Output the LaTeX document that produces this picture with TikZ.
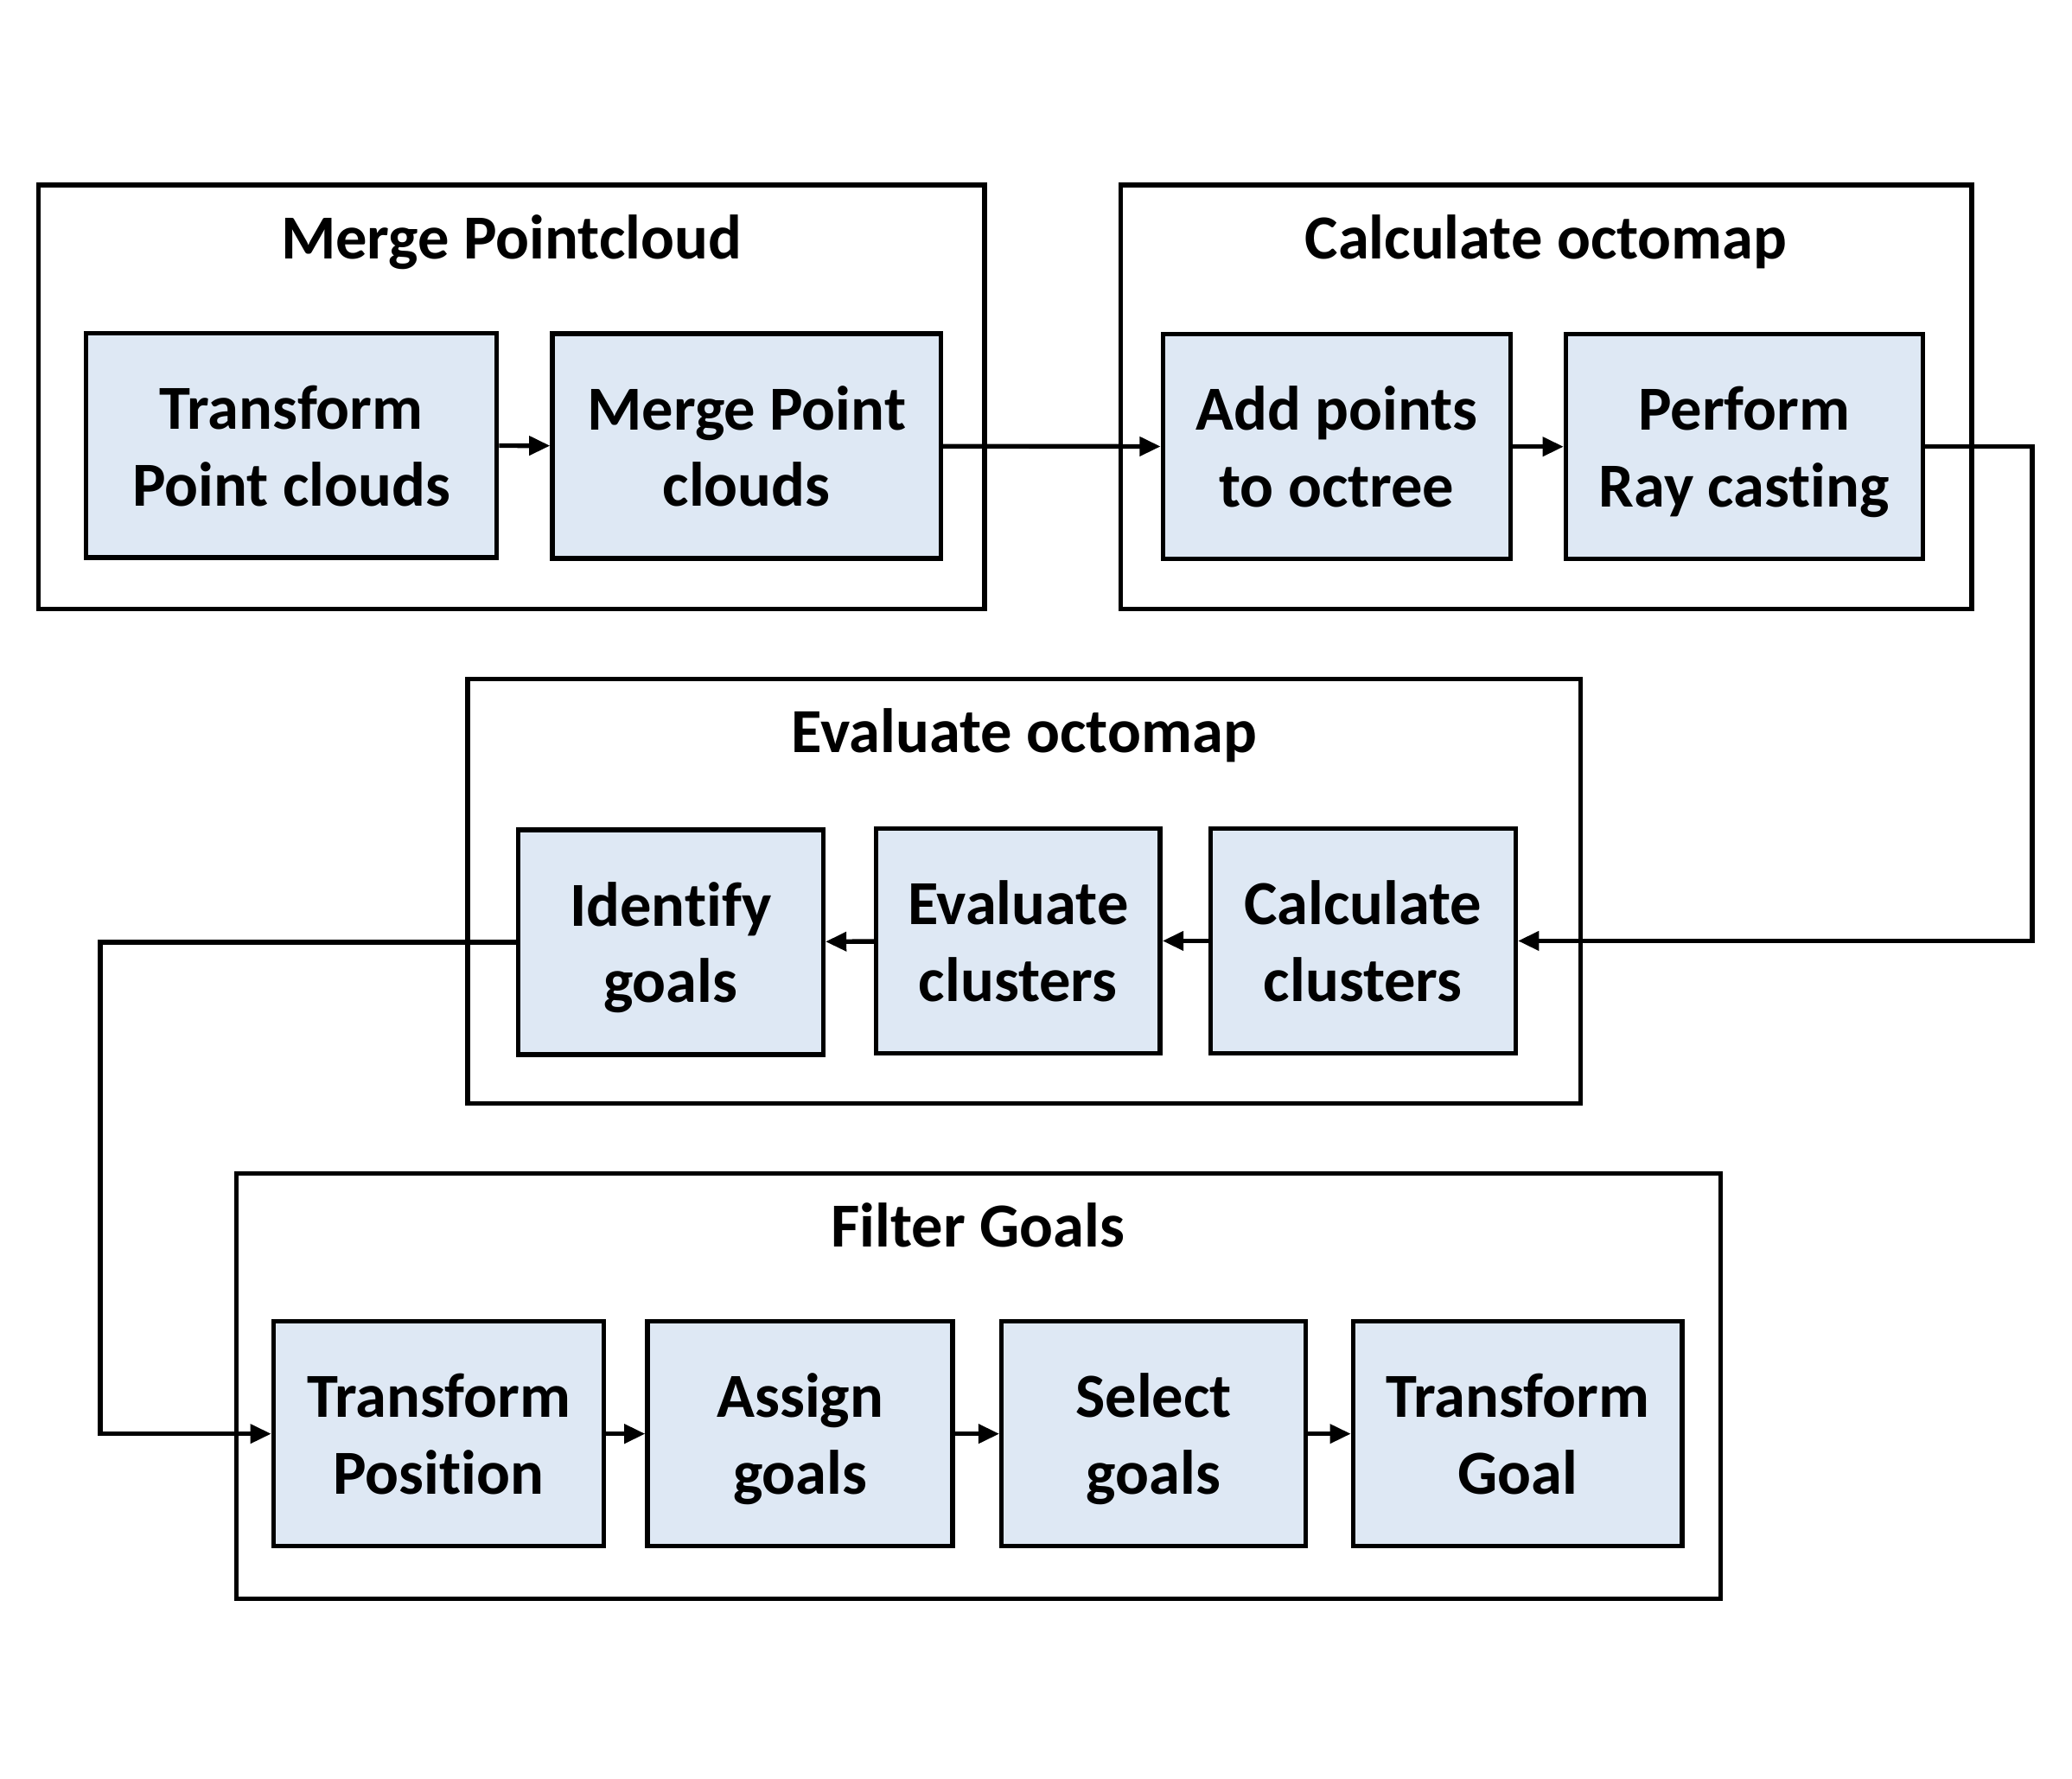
\documentclass[tikz,border=0pt]{standalone}
\usepackage{fontspec}
\setmainfont[Ligatures=NoCommon]{Carlito}
\usetikzlibrary{arrows.meta}

\definecolor{boxblue}{HTML}{DEE8F4}

\tikzset{
  task/.style={draw, line width=2pt, fill=boxblue, align=center,
    inner sep=0pt, font=\fontsize{27}{33}\selectfont\bfseries,
    text height=52pt, text depth=0pt},
  frame/.style={draw, line width=2pt},
  title/.style={font=\fontsize{27}{33}\selectfont\bfseries,
    execute at begin node=\strut},
  flow/.style={line width=2pt, -{Triangle[length=9pt,width=8pt]}}
}

\begin{document}
\begin{tikzpicture}[x=0.02cm, y=-0.02cm]
  \useasboundingbox (0,0) rectangle (1568,1346);
  % group frames
  \draw[frame] (29,140) rectangle (745,461);
  \draw[frame] (848,140) rectangle (1492,461);
  \draw[frame] (354,514) rectangle (1196,835);
  \draw[frame] (179,888) rectangle (1302,1210);
  \node[title] (merge) at (387,184) {Merge Pointcloud};
  \node[title] (octo) at (1170,184) {Calculate octomap};
  \node[title] (evaloct) at (775,558) {Evaluate octomap};
  \node[title] (filter) at (740,932) {Filter Goals};
  % tasks
  \node[task, minimum width=6.22cm, minimum height=3.4cm] (tpc) at (220.5,337) {Transform\\Point clouds};
  \node[task, minimum width=5.88cm, minimum height=3.4cm] (mpc) at (565,337.5) {Merge Point\\clouds};
  \node[task, minimum width=5.26cm, minimum height=3.4cm] (apo) at (1011.5,338) {Add points\\to octree};
  \node[task, minimum width=5.40cm, minimum height=3.4cm] (prc) at (1320,338) {Perform\\Ray casting};
  \node[task, minimum width=4.62cm, minimum height=3.4cm] (idg) at (507.5,713) {Identify\\goals};
  \node[task, minimum width=4.30cm, minimum height=3.4cm] (evc) at (770.5,712) {Evaluate\\clusters};
  \node[task, minimum width=4.62cm, minimum height=3.4cm] (cac) at (1031.5,712) {Calculate\\clusters};
  \node[task, minimum width=5.00cm, minimum height=3.4cm] (tpo) at (332,1085) {Transform\\Position};
  \node[task, minimum width=4.62cm, minimum height=3.4cm] (asg) at (605.5,1085) {Assign\\goals};
  \node[task, minimum width=4.60cm, minimum height=3.4cm] (slg) at (873,1085) {Select\\goals};
  \node[task, minimum width=4.98cm, minimum height=3.4cm] (tgo) at (1148.5,1085) {Transform\\Goal};
  % routing points
  \coordinate (rside) at (1538,500);
  \coordinate (lside) at (76,900);
  % connectors
  \draw[flow] (tpc) -- (mpc);
  \draw[flow] (mpc) -- (apo);
  \draw[flow] (apo) -- (prc);
  \draw[flow] (prc.east) -- (prc.east -| rside) -- (cac.east -| rside) -- (cac.east);
  \draw[flow] (cac) -- (evc);
  \draw[flow] (evc) -- (idg);
  \draw[flow] (idg.west) -- (idg.west -| lside) -- (tpo.west -| lside) -- (tpo.west);
  \draw[flow] (tpo) -- (asg);
  \draw[flow] (asg) -- (slg);
  \draw[flow] (slg) -- (tgo);
\end{tikzpicture}
\end{document}
